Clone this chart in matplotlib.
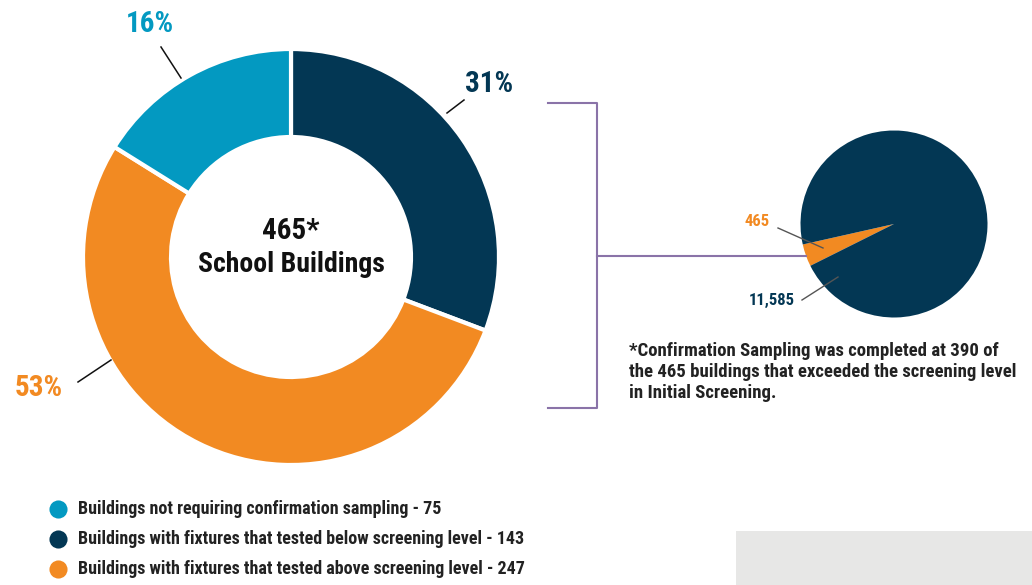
import matplotlib
matplotlib.use("Agg")
import matplotlib.pyplot as plt
from matplotlib import font_manager

# data
labels = ["Buildings not requiring confirmation sampling",
          "Buildings with fixtures that tested below screening level",
          "Buildings with fixtures that tested above screening level"]
counts = [75, 143, 247]
colors = ["#0399C1", "#033754", "#F28A22"]

center_top = "465*"
center_bottom = "School Buildings"

small_labels = ["465", "11,585"]
small_values = [465, 11585]
small_colors = ["#F28A22", "#033754"]

note = ("*Confirmation Sampling was completed at 390 of\n"
        "the 465 buildings that exceeded the screening level\n"
        "in Initial Screening.")

# pick a narrow font if one is installed
installed = {f.name for f in font_manager.fontManager.ttflist}
FONT = "DejaVu Sans"
for cand in ["Roboto Condensed", "Liberation Sans Narrow", "Open Sans Condensed", "Noto Sans Condensed"]:
    if cand in installed:
        FONT = cand
        break
plt.rcParams['font.family'] = [FONT, 'DejaVu Sans']

W, H = 1032, 585
fig = plt.figure(figsize=(W / 100, H / 100), dpi=100)
ax = fig.add_axes([0, 0, 1, 1])


def Y(y):
    # image y (from top) -> axes y
    return H - y


# donut, clockwise from the top: below (navy), above (orange), not requiring (blue)
order = [1, 2, 0]
cx, cy, R = 291, Y(257), 208
wedges, _ = ax.pie([counts[i] for i in order], colors=[colors[i] for i in order],
                   startangle=90, counterclock=False, radius=R, center=(cx, cy),
                   frame=True, wedgeprops=dict(width=88, edgecolor="white", linewidth=3))

total = sum(counts)
pcts = ["{}%".format(round(c / total * 100)) for c in counts]
# leader start (on the ring), leader end, label centre - image coords
label_pos = [((181, 78), (161, 47), (150, 24)),
             ((447, 113), (464, 100), (489, 84)),
             ((111, 360), (78, 382), (39, 388))]
for i, (p0, p1, pt) in enumerate(label_pos):
    ax.plot([p0[0], p1[0]], [Y(p0[1]), Y(p1[1])], color="#111111", lw=1.1)
    ax.text(pt[0], Y(pt[1]), pcts[i], color=colors[i], fontsize=21, fontweight="bold",
            ha="center", va="center")

ax.text(cx, Y(231), center_top, fontsize=21, fontweight="bold", ha="center", va="center", color="#111111")
ax.text(cx, Y(264), center_bottom, fontsize=20, fontweight="bold", ha="center", va="center", color="#111111")

# small pie
scx, scy, sr = 894, Y(224), 93.5
frac = small_values[0] / sum(small_values) * 360
ax.pie(small_values, colors=small_colors, startangle=199.6 - frac / 2, counterclock=True,
       radius=sr, center=(scx, scy), frame=True)

ax.plot([778, 823], [Y(228), Y(248)], color="#555555", lw=1)
ax.text(757, Y(222), small_labels[0], color=small_colors[0], fontsize=12, fontweight="bold",
        ha="center", va="center")
ax.plot([802, 838], [Y(300), Y(277)], color="#555555", lw=1)
ax.text(772, Y(300), small_labels[1], color=small_colors[1], fontsize=12, fontweight="bold",
        ha="center", va="center")

# bracket
purple = "#8A73A8"
ax.plot([548, 597, 597, 548], [Y(103), Y(103), Y(408), Y(408)], color=purple, lw=1.5)
ax.plot([597, 806], [Y(256), Y(256)], color=purple, lw=1.5)

ax.text(629, Y(342), note, fontsize=13.5, fontweight="bold", color="#222222",
        ha="left", va="top", linespacing=1.2)

# legend
for i, (lab, c) in enumerate(zip(labels, counts)):
    yy = Y(509 + 30 * i)
    ax.scatter([58], [yy], s=170, color=colors[i], zorder=3, linewidths=0)
    ax.text(78, yy, "{} - {}".format(lab, c), fontsize=13, fontweight="bold",
            color="#222222", ha="left", va="center")

ax.add_patch(plt.Rectangle((736, 0), W - 736, H - 531, color="#E7E7E6", lw=0))

ax.set_xlim(0, W)
ax.set_ylim(0, H)
ax.set_aspect("equal")
ax.axis("off")

fig.savefig("out.png", dpi=100)
